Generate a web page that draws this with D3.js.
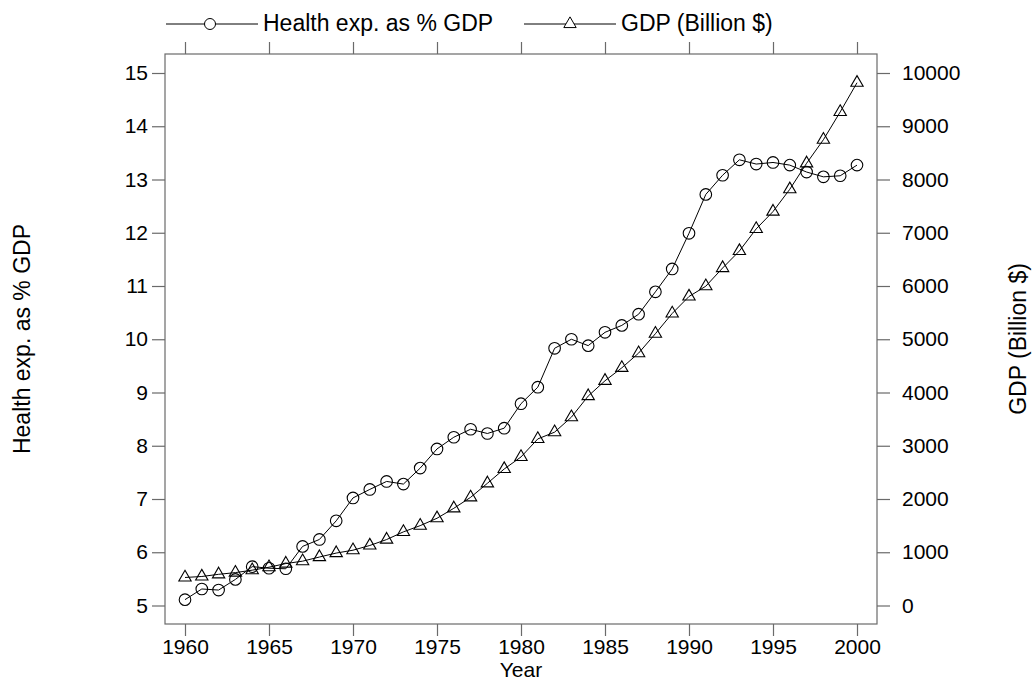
<!DOCTYPE html>
<html>
<head>
<meta charset="utf-8">
<script src="https://cdn.jsdelivr.net/npm/d3@7"></script>
<style>
  html, body { margin: 0; padding: 0; background: #fff; }
  svg { display: block; font-family: "Liberation Sans", Arial, Helvetica, sans-serif; }
</style>
</head>
<body>
<svg id="chart" width="1032" height="682"></svg>
<script>
// US health expenditure share of GDP and nominal GDP, 1960-2000
const years = d3.range(1960, 2001);
const healthPct = [
  5.11, 5.31, 5.29, 5.49, 5.73, 5.70, 5.69, 6.11, 6.24, 6.59,
  7.02, 7.18, 7.33, 7.28, 7.58, 7.94, 8.16, 8.31, 8.23, 8.33,
  8.79, 9.10, 9.83, 10.00, 9.88, 10.13, 10.26, 10.47, 10.89, 11.32,
  11.99, 12.72, 13.08, 13.37, 13.29, 13.32, 13.27, 13.14, 13.05, 13.07,
  13.27
];
const gdpBillions = [
  526.4, 544.7, 585.6, 617.7, 663.6, 719.1, 787.8, 832.6, 910.0, 984.6,
  1038.5, 1127.1, 1238.3, 1382.7, 1500.0, 1638.3, 1825.3, 2030.9, 2294.7, 2563.3,
  2789.5, 3128.4, 3255.0, 3536.7, 3933.2, 4220.3, 4462.8, 4739.5, 5103.8, 5484.4,
  5803.1, 5995.9, 6337.7, 6657.4, 7072.2, 7397.7, 7816.9, 8304.3, 8747.0, 9268.4,
  9817.0
];
const yearTicks = [1960, 1965, 1970, 1975, 1980, 1985, 1990, 1995, 2000];
const healthTicks = [5, 6, 7, 8, 9, 10, 11, 12, 13, 14, 15];
const gdpTicks = [0, 1000, 2000, 3000, 4000, 5000, 6000, 7000, 8000, 9000, 10000];
const seriesNames = ["Health exp. as % GDP", "GDP (Billion $)"];
const xTitle = "Year";

const svg = d3.select("#chart");
const box = { left: 165, right: 877, top: 54, bottom: 624 };
const axisColor = "#6a6a6a";
const tickFont = 21;
const titleFont = 23;

const x = d3.scaleLinear().domain([1960, 2000]).range([185, 857]);
const yL = d3.scaleLinear().domain([5, 15]).range([605.5, 73]);
const yR = d3.scaleLinear().domain([0, 10000]).range([605.5, 73]);

// axes
function styleAxis(g) {
  g.select(".domain").remove();
  g.selectAll(".tick line").attr("stroke", axisColor).attr("stroke-width", 1.2);
  g.selectAll(".tick text").attr("fill", "#000").style("font-size", tickFont + "px")
    .style("font-family", "'Liberation Sans', Arial, sans-serif");
}
svg.append("g").attr("transform", `translate(0,${box.bottom})`)
  .call(d3.axisBottom(x).tickValues(yearTicks).tickFormat(d3.format("d")).tickSize(12).tickPadding(3))
  .call(styleAxis);
svg.append("g").attr("transform", `translate(0,${box.top})`)
  .call(d3.axisTop(x).tickValues(yearTicks).tickFormat("").tickSize(12))
  .call(styleAxis);
svg.append("g").attr("transform", `translate(${box.left},0)`)
  .call(d3.axisLeft(yL).tickValues(healthTicks).tickFormat(d3.format("d")).tickSize(13).tickPadding(4))
  .call(styleAxis);
svg.append("g").attr("transform", `translate(${box.right},0)`)
  .call(d3.axisRight(yR).tickValues(gdpTicks).tickFormat(d3.format("d")).tickSize(13).tickPadding(12))
  .call(styleAxis);

// panel box
svg.append("rect")
  .attr("x", box.left).attr("y", box.top)
  .attr("width", box.right - box.left).attr("height", box.bottom - box.top)
  .attr("fill", "none").attr("stroke", axisColor).attr("stroke-width", 1.2);

// series
const tri = d3.symbol().type(d3.symbolTriangle).size(66);
const health = years.map((yr, i) => ({ x: yr, y: healthPct[i] }));
const gdp = years.map((yr, i) => ({ x: yr, y: gdpBillions[i] }));

svg.append("path").datum(health)
  .attr("fill", "none").attr("stroke", "#000").attr("stroke-width", 1)
  .attr("d", d3.line().x(d => x(d.x)).y(d => yL(d.y)));
svg.append("path").datum(gdp)
  .attr("fill", "none").attr("stroke", "#000").attr("stroke-width", 1)
  .attr("d", d3.line().x(d => x(d.x)).y(d => yR(d.y)));

svg.append("g").selectAll("circle").data(health).join("circle")
  .attr("cx", d => x(d.x)).attr("cy", d => yL(d.y)).attr("r", 5.8)
  .attr("fill", "none").attr("stroke", "#000").attr("stroke-width", 1.1);
svg.append("g").selectAll("path").data(gdp).join("path")
  .attr("transform", d => `translate(${x(d.x)},${yR(d.y)})`)
  .attr("d", tri)
  .attr("fill", "none").attr("stroke", "#000").attr("stroke-width", 1.1);

// legend
const legY = 24;
const leg1 = svg.append("g");
leg1.append("line").attr("x1", 166).attr("x2", 258).attr("y1", legY).attr("y2", legY)
  .attr("stroke", "#000").attr("stroke-width", 1);
leg1.append("circle").attr("cx", 210).attr("cy", legY).attr("r", 5.5)
  .attr("fill", "#fff").attr("stroke", "#000").attr("stroke-width", 1);
leg1.append("text").attr("x", 263).attr("y", legY - 1).attr("dy", "0.35em")
  .style("font-size", titleFont + "px").text(seriesNames[0]);

const leg2 = svg.append("g");
leg2.append("line").attr("x1", 524).attr("x2", 616).attr("y1", legY).attr("y2", legY)
  .attr("stroke", "#000").attr("stroke-width", 1);
leg2.append("path").attr("transform", `translate(570,${legY})`).attr("d", tri)
  .attr("fill", "#fff").attr("stroke", "#000").attr("stroke-width", 1);
leg2.append("text").attr("x", 621).attr("y", legY - 1).attr("dy", "0.35em")
  .style("font-size", titleFont + "px").text(seriesNames[1]);

// axis titles
svg.append("text").attr("x", (box.left + box.right) / 2).attr("y", 677)
  .attr("text-anchor", "middle").style("font-size", "21px").text(xTitle);
svg.append("text")
  .attr("transform", `translate(22,${(box.top + box.bottom) / 2}) rotate(-90)`)
  .attr("text-anchor", "middle").attr("dy", "0.35em")
  .style("font-size", titleFont + "px").text(seriesNames[0]);
svg.append("text")
  .attr("transform", `translate(1018,${(box.top + box.bottom) / 2}) rotate(-90)`)
  .attr("text-anchor", "middle").attr("dy", "0.35em")
  .style("font-size", titleFont + "px").text(seriesNames[1]);
</script>
</body>
</html>
